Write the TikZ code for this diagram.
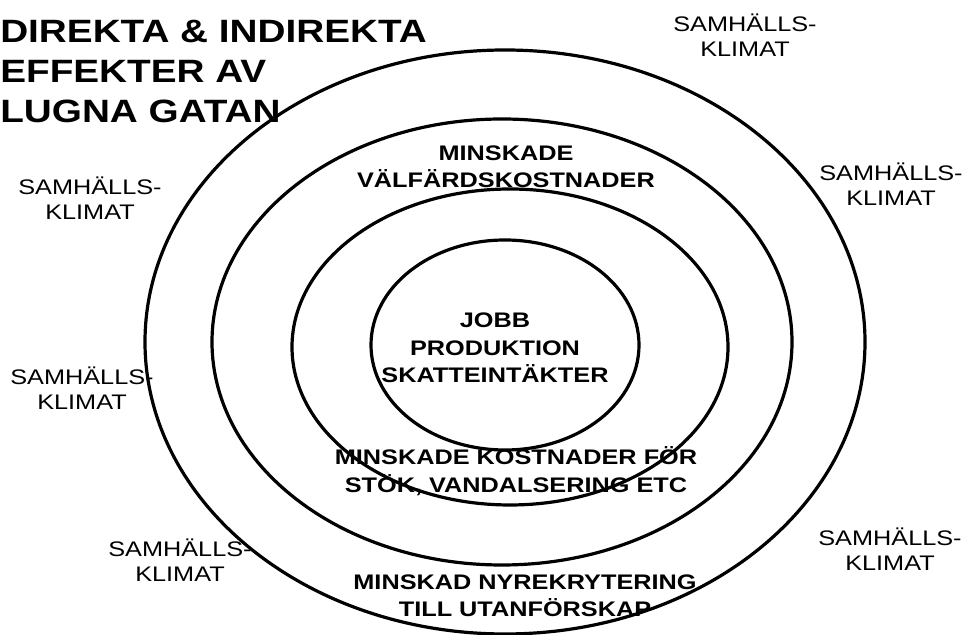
\documentclass[tikz,border=0pt]{standalone}
\usepackage{fontspec}
\setmainfont{Liberation Sans}[FakeStretch=1.2]
\usepackage{tikz}
\usetikzlibrary{positioning}

\tikzset{
  ring/.style={line width=2.4pt},
  headline/.style={font=\bfseries\fontsize{24.2}{30}\selectfont,align=left,inner sep=0pt},
  ringlabel/.style={font=\bfseries\fontsize{15.8}{20.5}\selectfont,align=center},
  climate/.style={font=\fontsize{15.8}{18.75}\selectfont,align=center}
}

\begin{document}
\begin{tikzpicture}[x=0.75pt,y=0.75pt]
  \useasboundingbox (0,0) rectangle (965,635);
  \draw[ring] (505,293) ellipse [x radius=360,y radius=292];
  \draw[ring] (502,293) ellipse [x radius=290,y radius=223];
  \draw[ring] (510,288) ellipse [x radius=218,y radius=158];
  \draw[ring] (505,290) ellipse [x radius=134,y radius=105];

  \node[headline,anchor=base west] (title) at (0,512) {DIREKTA \& INDIREKTA\\EFFEKTER AV\\LUGNA GATAN};

  \node[ringlabel] (welfare) at (506,468.5) {MINSKADE\\VÄLFÄRDSKOSTNADER};
  \node[ringlabel] (core) at (495,287) {JOBB\\PRODUKTION\\SKATTEINTÄKTER};
  \node[ringlabel] (vandal) at (516,164) {MINSKADE KOSTNADER FÖR\\STÖK, VANDALSERING ETC};
  \node[ringlabel] (recruit) at (525,39) {MINSKAD NYREKRYTERING\\TILL UTANFÖRSKAP};

  \node[climate] (climtop) at (745,599.5) {SAMHÄLLS-\\KLIMAT};
  \node[climate] (climnw) at (90,437) {SAMHÄLLS-\\KLIMAT};
  \node[climate] (climne) at (891,450.5) {SAMHÄLLS-\\KLIMAT};
  \node[climate] (climw) at (82,246.5) {SAMHÄLLS-\\KLIMAT};
  \node[climate] (climsw) at (180,74.5) {SAMHÄLLS-\\KLIMAT};
  \node[climate] (climse) at (890,86) {SAMHÄLLS-\\KLIMAT};
\end{tikzpicture}
\end{document}
